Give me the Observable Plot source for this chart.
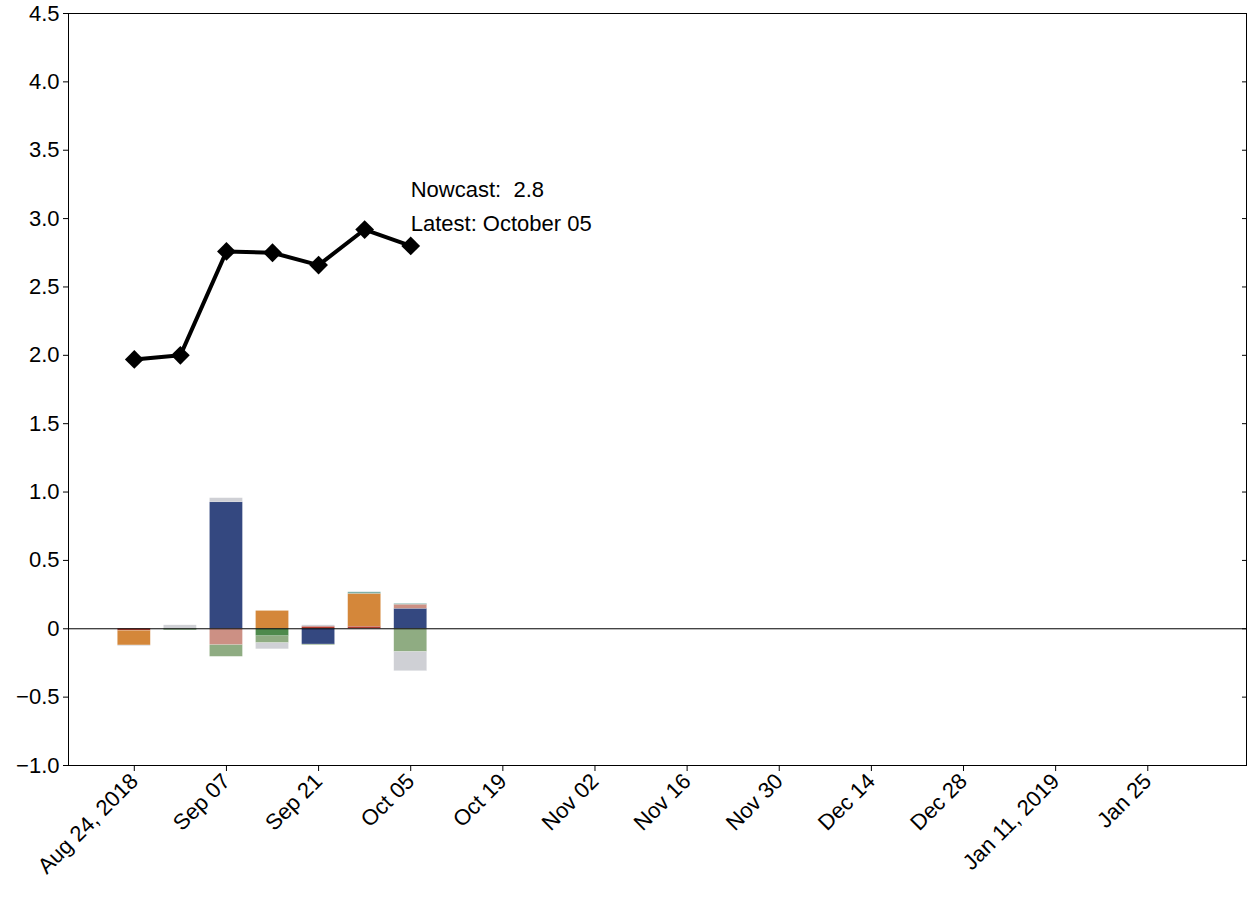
<!DOCTYPE html>
<html>
<head>
<meta charset="utf-8">
<script src="https://cdn.jsdelivr.net/npm/d3@7"></script>
<script src="https://cdn.jsdelivr.net/npm/@observablehq/plot@0.6"></script>
<style>
  body { margin: 0; background: #fff; font-family: "Liberation Sans", Arial, sans-serif; }
</style>
</head>
<body>
<div id="chart"></div>
<script>
const weeks = ['2018-08-24', '2018-08-31', '2018-09-07', '2018-09-14', '2018-09-21', '2018-09-28', '2018-10-05']
const nowcast = [1.97, 2.0, 2.76, 2.75, 2.66, 2.92, 2.80]

// contributions by category (one value per week)
const categories = ['Housing', 'Manufacturing', 'Surveys', 'Labor', 'Income', 'Retail', 'International', 'Other']
const catColors = ['#344880', '#d4873a', '#cc9084', '#4e8a4c', '#8fac82', '#b03a2e', '#7fb0a8', '#cfd0d5']
const housing       = [0, 0, 0.925, 0, -0.115, 0, 0.146]
const manufacturing = [-0.107, 0, 0, 0.13, 0, 0.24, 0]
const surveys       = [0, 0, -0.12, 0, 0, 0, 0.03]
const labor         = [0, -0.01, 0, -0.055, 0, 0, 0]
const income        = [0, 0, -0.085, -0.05, -0.005, 0, -0.17]
const retail        = [-0.015, 0, 0, 0, 0.015, 0.015, 0]
const international = [0, 0, 0, 0, 0, 0.012, 0.006]
const other         = [-0.005, 0.025, 0.03, -0.045, 0.01, 0, -0.14]
const series = [housing, manufacturing, surveys, labor, income, retail, international, other]

const tickDates = ['2018-08-24', '2018-09-07', '2018-09-21', '2018-10-05', '2018-10-19', '2018-11-02',
  '2018-11-16', '2018-11-30', '2018-12-14', '2018-12-28', '2019-01-11', '2019-01-25']
const tickLabels = ['Aug 24, 2018', 'Sep 07', 'Sep 21', 'Oct 05', 'Oct 19', 'Nov 02',
  'Nov 16', 'Nov 30', 'Dec 14', 'Dec 28', 'Jan 11, 2019', 'Jan 25']
const yTicks = [-1, -0.5, 0, 0.5, 1, 1.5, 2, 2.5, 3, 3.5, 4, 4.5]

const parse = d3.utcParse('%Y-%m-%d')
const day = 86400000

/* stacked rects, positives up and negatives down */
let rects = []
weeks.forEach((w, i) => {
  const d = parse(w)
  let pos = 0, neg = 0
  const order = [5, 0, 1, 2, 3, 4, 6, 7]
  order.forEach(k => {
    const v = series[k][i]
    if (v === 0) return
    const y1 = v > 0 ? pos : neg
    const y2 = y1 + v
    if (v > 0) pos = y2; else neg = y2
    rects.push({x1: new Date(+d - 2.5 * day), x2: new Date(+d + 2.5 * day), y1, y2, cat: categories[k]})
  })
})
const line = weeks.map((w, i) => ({date: parse(w), value: nowcast[i]}))
const labelMap = new Map(tickDates.map((t, i) => [+parse(t), tickLabels[i]]))

const chart = Plot.plot({
  width: 1247,
  height: 898,
  marginLeft: 68,
  marginRight: 1,
  marginTop: 13,
  marginBottom: 133,
  style: {fontFamily: '"Liberation Sans", Arial, sans-serif', fontSize: '22px', color: '#000'},
  x: {type: 'utc', domain: [parse('2018-08-14'), parse('2019-02-09')], label: null},
  y: {domain: [-1, 4.5], label: null},
  color: {domain: categories, range: catColors},
  marks: [
    Plot.frame({stroke: '#000'}),
    Plot.rect(rects, {x1: 'x1', x2: 'x2', y1: 'y1', y2: 'y2', fill: 'cat', stroke: '#fff', strokeOpacity: 0.3, strokeWidth: 0.5}),
    Plot.ruleY([0], {stroke: '#000', strokeWidth: 1}),
    Plot.axisY(yTicks, {anchor: 'left', tickSize: 5, tickPadding: 4, fontSize: 22,
      tickFormat: d => d === 0 ? '0' : d3.format('.1f')(d)}),
    Plot.axisY(yTicks, {anchor: 'right', tickSize: -5, tickFormat: () => ''}),
    Plot.axisX(tickDates.map(parse), {anchor: 'bottom', tickSize: 6, tickRotate: -45, fontSize: 22,
      tickPadding: 6, tickFormat: d => labelMap.get(+d)}),
    Plot.line(line, {x: 'date', y: 'value', stroke: '#000', strokeWidth: 4}),
    Plot.dot(line, {x: 'date', y: 'value', symbol: 'square', rotate: 45, r: 7.5, fill: '#000'}),
    Plot.text([{date: parse('2018-10-05'), value: 3.21, t: 'Nowcast:  2.8'},
               {date: parse('2018-10-05'), value: 2.96, t: 'Latest: October 05'}],
      {x: 'date', y: 'value', text: 't', textAnchor: 'start', fontSize: 22, fill: '#000'})
  ]
})
document.getElementById('chart').append(chart)
</script>
</body>
</html>
